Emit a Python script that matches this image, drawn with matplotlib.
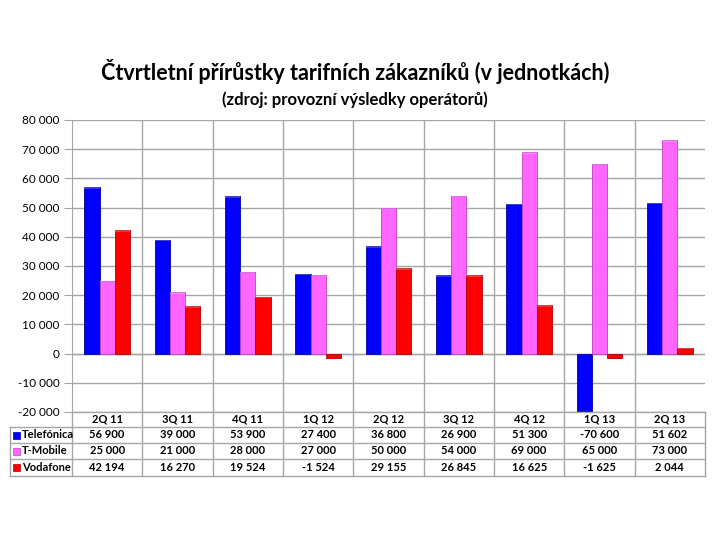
import numpy as np
import matplotlib.pyplot as plt
from matplotlib.patches import Rectangle

categories = ["2Q 11", "3Q 11", "4Q 11", "1Q 12", "2Q 12", "3Q 12", "4Q 12", "1Q 13", "2Q 13"]
telefonica = [56900, 39000, 53900, 27400, 36800, 26900, 51300, -70600, 51602]
tmobile = [25000, 21000, 28000, 27000, 50000, 54000, 69000, 65000, 73000]
vodafone = [42194, 16270, 19524, -1524, 29155, 26845, 16625, -1625, 2044]
series_names = ["Telefónica", "T-Mobile", "Vodafone"]
colors = ["#0000FF", "#FF66FF", "#FF0000"]
edge_colors = ["#0000A0", "#C040C0", "#B00000"]

plt.rcParams["font.family"] = ["Lato", "DejaVu Sans"]


def fmt(v):
    s = f"{abs(v):,}".replace(",", " ")
    return ("-" if v < 0 else "") + s


fig = plt.figure(figsize=(7.2, 5.4), dpi=100)
fig.patch.set_facecolor("white")

ax = fig.add_axes([72 / 720, 1 - 412 / 540, 633 / 720, 292 / 540])
n = len(categories)
x = np.arange(n)
w = 0.215
all_series = [telefonica, tmobile, vodafone]
for i, vals in enumerate(all_series):
    pos = x + (i - 1) * w
    ax.bar(pos, vals, width=w, color=colors[i], edgecolor=edge_colors[i], linewidth=0.6, zorder=3)
    # lighter cap for a slight 3D look
    for p, v in zip(pos, vals):
        if v > 0:
            ax.add_patch(Rectangle((p - w / 2, v - 500), w, 500, facecolor="white", alpha=0.2,
                                   edgecolor="none", zorder=4))

ax.set_xlim(-0.5, n - 0.5)
ax.set_ylim(-20000, 80000)
yt = np.arange(-20000, 80001, 10000)
ax.set_yticks(yt)
ax.set_yticklabels([fmt(v) for v in yt], fontsize=8.5)
ax.set_xticks([])
ax.grid(axis="y", color="#A6A6A6", linewidth=1, zorder=0)
for b in np.arange(0.5, n - 0.5, 1):
    ax.axvline(b, color="#A6A6A6", linewidth=1, zorder=0)
ax.axhline(0, color="#A6A6A6", linewidth=1, zorder=1)
for side in ["top", "right", "bottom"]:
    ax.spines[side].set_visible(False)
ax.spines["left"].set_color("#A6A6A6")
ax.tick_params(axis="y", length=6, color="#A6A6A6", pad=3)

# data table under the chart
tx0, tx1 = 72 / 720, 705 / 720
lx0 = 10 / 720
rows_y = [412, 427, 443, 459, 476]
line_kw = dict(color="#A6A6A6", linewidth=1, transform=fig.transFigure)
fy = lambda py: 1 - py / 540
for py in rows_y:
    x_start = tx0 if py == rows_y[0] else lx0
    fig.add_artist(plt.Line2D([x_start, tx1], [fy(py), fy(py)], **line_kw))
fig.add_artist(plt.Line2D([lx0, lx0], [fy(rows_y[1]), fy(rows_y[-1])], **line_kw))
cw = (tx1 - tx0) / n
for k in range(n + 1):
    fig.add_artist(plt.Line2D([tx0 + k * cw] * 2, [fy(rows_y[0]), fy(rows_y[-1])], **line_kw))

for k, c in enumerate(categories):
    fig.text(tx0 + (k + 0.5) * cw, fy((rows_y[0] + rows_y[1]) / 2), c, ha="center", va="center",
             fontsize=8, fontweight="bold")
for r, vals in enumerate(all_series):
    yc = fy((rows_y[r + 1] + rows_y[r + 2]) / 2)
    fig.add_artist(Rectangle((13 / 720, yc - 3.5 / 540), 7 / 720, 7 / 540, facecolor=colors[r],
                             edgecolor=edge_colors[r], linewidth=0.5, transform=fig.transFigure))
    fig.text(22 / 720, yc, series_names[r], ha="left", va="center", fontsize=8, fontweight="bold")
    for k, v in enumerate(vals):
        fig.text(tx0 + (k + 0.5) * cw, yc, fmt(v), ha="center", va="center", fontsize=8,
                 fontweight="bold")

fig.text(355 / 720, fy(72), "Čtvrtletní přírůstky tarifních zákazníků (v jednotkách)", ha="center",
         va="center", fontsize=15.5, fontweight="bold")
fig.text(355 / 720, fy(100), "(zdroj: provozní výsledky operátorů)", ha="center", va="center",
         fontsize=12, fontweight="bold")

fig.savefig("out.png", dpi=100)
